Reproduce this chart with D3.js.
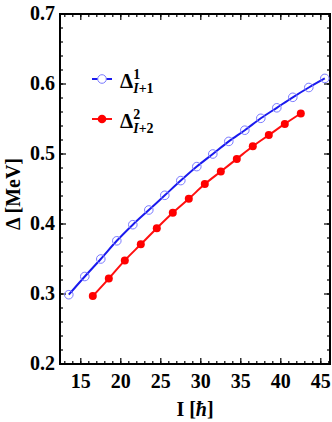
<!DOCTYPE html>
<html>
<head>
<meta charset="utf-8">
<script src="https://cdn.jsdelivr.net/npm/d3@7/dist/d3.min.js"></script>
<style>
  body { margin: 0; background: #fff; }
  text { font-family: "Liberation Serif", "Times New Roman", serif; font-weight: bold; }
</style>
</head>
<body>
<div id="chart"></div>
<script>
// spin values for each band
var spinA = [13.5, 15.5, 17.5, 19.5, 21.5, 23.5, 25.5, 27.5, 29.5, 31.5, 33.5, 35.5, 37.5, 39.5, 41.5, 43.5, 45.5];
var deltaA = [0.299, 0.325, 0.350, 0.376, 0.399, 0.420, 0.441, 0.462, 0.482, 0.500, 0.518, 0.534, 0.551, 0.566, 0.581, 0.595, 0.608];

var spinB = [16.5, 18.5, 20.5, 22.5, 24.5, 26.5, 28.5, 30.5, 32.5, 34.5, 36.5, 38.5, 40.5, 42.5];
var deltaB = [0.297, 0.322, 0.348, 0.371, 0.394, 0.416, 0.436, 0.457, 0.475, 0.493, 0.511, 0.527, 0.543, 0.558];

var xTicks = [15, 20, 25, 30, 35, 40, 45];
var yTicks = [0.2, 0.3, 0.4, 0.5, 0.6, 0.7];

var margin = {top: 14, right: 2, bottom: 58, left: 60};
var width = 332 - margin.left - margin.right;
var height = 422 - margin.top - margin.bottom;

var x = d3.scaleLinear().domain([12.4, 46.15]).range([0, width]);
var y = d3.scaleLinear().domain([0.2, 0.7]).range([height, 0]);

var svg = d3.select("#chart").append("svg")
    .attr("width", 332)
    .attr("height", 422)
  .append("g")
    .attr("transform", "translate(" + margin.left + "," + margin.top + ")");

// minor ticks (inward, all four sides)
var xMinor = d3.range(13, 47, 1);
var yMinor = d3.range(0.2, 0.7001, 0.02);

function tickset(g, vals, scale, len, side) {
  g.selectAll("line." + side).data(vals).enter().append("line")
    .attr("class", side)
    .attr("stroke", "#000")
    .attr("stroke-width", 1.2)
    .each(function(d) {
      var s = d3.select(this);
      if (side === "bottom") s.attr("x1", scale(d)).attr("x2", scale(d)).attr("y1", height).attr("y2", height - len);
      if (side === "top") s.attr("x1", scale(d)).attr("x2", scale(d)).attr("y1", 0).attr("y2", len);
      if (side === "left") s.attr("y1", scale(d)).attr("y2", scale(d)).attr("x1", 0).attr("x2", len);
      if (side === "right") s.attr("y1", scale(d)).attr("y2", scale(d)).attr("x1", width).attr("x2", width - len);
    });
}
var tg = svg.append("g");
var tmin = tg.append("g"), tmaj = tg.append("g");
["bottom", "top"].forEach(function(s) { tickset(tmin, xMinor, x, 3, s); tickset(tmaj, xTicks, x, 6, s); });
["left", "right"].forEach(function(s) { tickset(tmin, yMinor, y, 3, s); tickset(tmaj, yTicks, y, 6, s); });

// frame
svg.append("rect")
    .attr("width", width).attr("height", height)
    .attr("fill", "none").attr("stroke", "#000").attr("stroke-width", 2);

// tick labels
svg.selectAll(".xl").data(xTicks).enter().append("text")
    .attr("x", function(d) { return x(d); })
    .attr("y", height + 24)
    .attr("text-anchor", "middle")
    .attr("font-size", 20)
    .text(function(d) { return d; });

svg.selectAll(".yl").data(yTicks).enter().append("text")
    .attr("x", -5)
    .attr("y", function(d) { return y(d) + 6; })
    .attr("text-anchor", "end")
    .attr("font-size", 20)
    .text(function(d) { return d3.format(".1f")(d); });

// axis titles
svg.append("text")
    .attr("transform", "translate(" + (-40) + "," + (height / 2 + 5) + ") rotate(-90)")
    .attr("text-anchor", "middle")
    .attr("font-size", 20)
    .text("Δ [MeV]");

var xt = svg.append("text")
    .attr("x", 135)
    .attr("y", height + 52)
    .attr("text-anchor", "middle")
    .attr("font-size", 20);
xt.append("tspan").text("I [");
xt.append("tspan").attr("font-style", "italic").text("ħ");
xt.append("tspan").text("]");

var line = d3.line().curve(d3.curveMonotoneX)
    .x(function(d) { return x(d[0]); })
    .y(function(d) { return y(d[1]); });

var ptsA = d3.zip(spinA, deltaA);
var ptsB = d3.zip(spinB, deltaB);

svg.append("path").datum(ptsA)
    .attr("d", line).attr("fill", "none").attr("stroke", "#1a1aee").attr("stroke-width", 2);
svg.selectAll(".pa").data(ptsA).enter().append("circle")
    .attr("cx", function(d) { return x(d[0]); })
    .attr("cy", function(d) { return y(d[1]); })
    .attr("r", 4.3)
    .attr("fill", "none").attr("stroke", "#7a7aff").attr("stroke-width", 1);

svg.append("path").datum(ptsB)
    .attr("d", line).attr("fill", "none").attr("stroke", "#ff1010").attr("stroke-width", 2);
svg.selectAll(".pb").data(ptsB).enter().append("circle")
    .attr("cx", function(d) { return x(d[0]); })
    .attr("cy", function(d) { return y(d[1]); })
    .attr("r", 4)
    .attr("fill", "#ff0000");

// legend
var legend = [
  {sup: "1", sub: "+1", color: "#1a1aee", open: true, ly: 65},
  {sup: "2", sub: "+2", color: "#ff1010", open: false, ly: 105}
];
var lg = svg.selectAll(".lg").data(legend).enter().append("g")
    .attr("transform", function(d) { return "translate(32," + d.ly + ")"; });
lg.append("line").attr("x1", 0).attr("x2", 20)
    .attr("stroke", function(d) { return d.color; }).attr("stroke-width", 2);
lg.append("circle").attr("cx", 10).attr("r", 4.3)
    .attr("fill", function(d) { return d.open ? "#fff" : "#ff0000"; })
    .attr("stroke", function(d) { return d.open ? "#7a7aff" : "none"; });
var lt = lg.append("text").attr("x", 28).attr("y", 9).attr("font-size", 21);
lt.append("tspan").text("Δ");
lt.append("tspan").attr("font-size", 14).attr("dy", -9).text(function(d) { return d.sup; });
lt.append("tspan").attr("font-size", 14).attr("dx", -7).attr("dy", 14).attr("font-style", "italic").text("I");
lt.append("tspan").attr("font-size", 14).text(function(d) { return d.sub; });
</script>
</body>
</html>
